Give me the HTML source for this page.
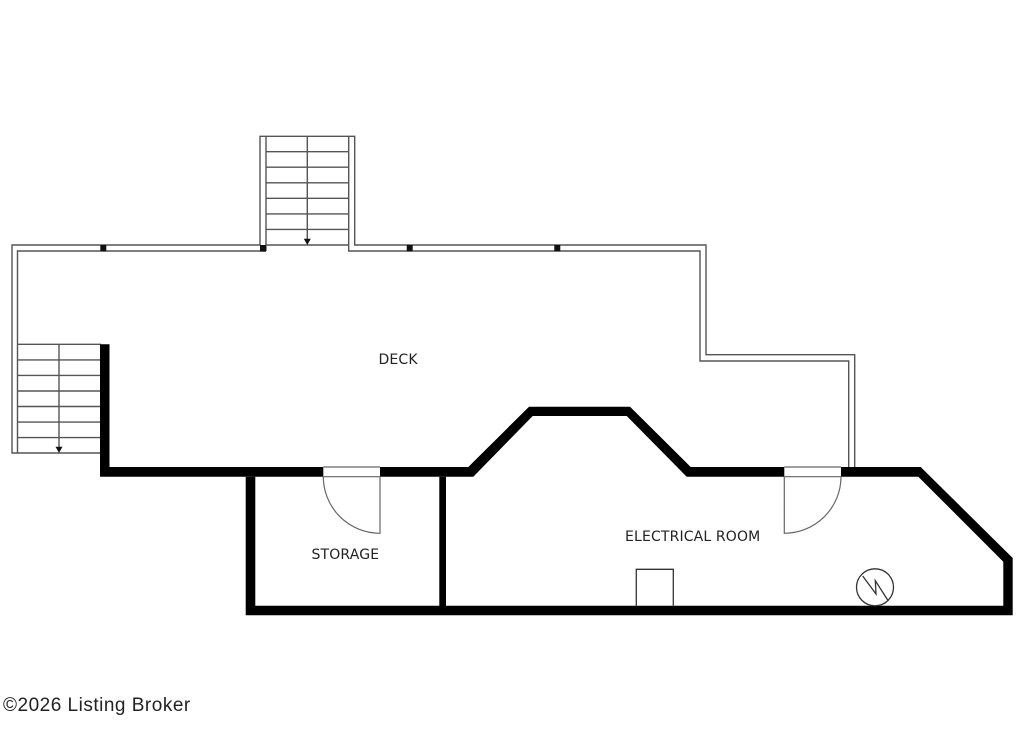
<!DOCTYPE html>
<html>
<head>
<meta charset="utf-8">
<style>
html,body{margin:0;padding:0;background:#fff;}
svg{display:block;}
text{font-family:"DejaVu Sans",sans-serif;font-size:14px;fill:#222;letter-spacing:0.15px;}
</style>
</head>
<body>
<svg width="1024" height="738" viewBox="0 0 1024 738" xmlns="http://www.w3.org/2000/svg">
<rect width="1024" height="738" fill="#fff"/>
<g fill="none" stroke="#555" stroke-width="1.4">
  <!-- outer deck rail -->
  <path d="M17.5 453H12V245H260V136.3H354.7V245H706V354.7H854.7V468"/>
  <!-- inner deck rail -->
  <path d="M266 251H17.5V453"/>
  <path d="M266 251V136.3M348.7 136.3V251H700V361H848.7V468"/>
  <path d="M260 251H266"/>
  <!-- top stair steps -->
  <path d="M266 151.7H348.7M266 167.2H348.7M266 182.8H348.7M266 198.3H348.7M266 213.9H348.7M266 229.4H348.7M266 245H348.7"/>
  <path d="M307.3 136.3V240"/>
  <!-- left stair steps -->
  <path d="M17.5 344.3H101M17.5 359.9H101M17.5 375.4H101M17.5 391H101M17.5 406.5H101M17.5 422.1H101M17.5 437.6H101M17.5 453H101"/>
  <path d="M59 344.3V447"/>
</g>
<!-- arrowheads -->
<path d="M303.8 238.7H310.8L307.3 245Z" fill="#111"/>
<path d="M55.5 446.7H62.5L59 452.9Z" fill="#111"/>
<!-- posts -->
<g fill="#111">
  <rect x="100.3" y="245" width="6" height="6.3"/>
  <rect x="260" y="245" width="6" height="6.3"/>
  <rect x="406.7" y="245" width="6" height="6.3"/>
  <rect x="554.3" y="245" width="6" height="6.3"/>
</g>
<!-- thick walls -->
<g fill="#000">
  <path d="M100 344.3H109.5V467H323.3V476.7H109.5H100Z"/>
  <path d="M380 467H468.3L529 406.7H630L690.7 467H784.3V476.7H686.7L626.7 416H532.7L473.3 476.7H380Z"/>
  <path d="M841 467H920.7L1012.7 558V615.3H245.7V476.7H255.3V605.7H439.3V476.7H446V605.7H1003.3V561.7L918.3 476.7H841Z"/>
</g>
<!-- doors -->
<g fill="none" stroke="#666" stroke-width="1.2">
  <path d="M323.3 467H380M323.3 476.7H380"/>
  <path d="M380 476.7V533.3A56.7 56.7 0 0 1 323.3 476.7"/>
  <path d="M784.3 467H841M784.3 476.7H841"/>
  <path d="M784.3 476.7V533.3A56.7 56.7 0 0 0 841 476.7"/>
</g>
<!-- fixtures -->
<g fill="none" stroke="#333" stroke-width="1.3">
  <path d="M636.3 605.7V569.3H673.3V605.7"/>
  <circle cx="875" cy="587.3" r="18.5"/>
  <path d="M862.7 576L876 594L875.3 580.7L887.7 600"/>
</g>
<!-- labels -->
<text x="378.5" y="364">DECK</text>
<text x="311.5" y="559">STORAGE</text>
<text x="625" y="541">ELECTRICAL ROOM</text>
<text x="3" y="711" style="font-family:'Liberation Sans',sans-serif;font-size:19px;letter-spacing:0.5px;fill:#222">©2026 Listing Broker</text>
</svg>
</body>
</html>
